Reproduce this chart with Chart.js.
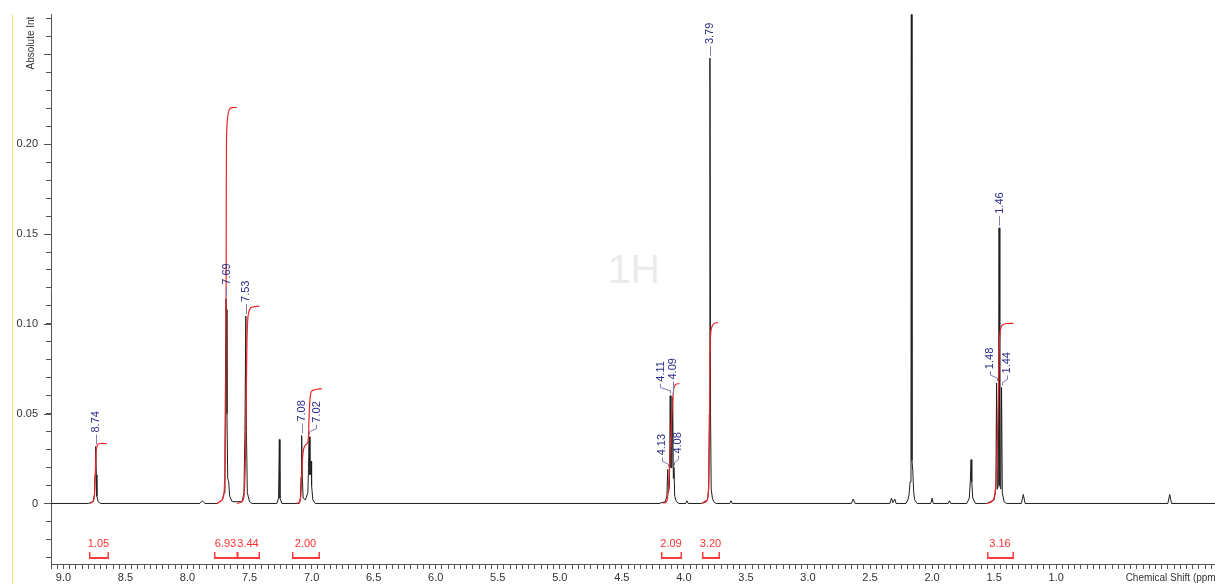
<!DOCTYPE html>
<html>
<head>
<meta charset="utf-8">
<title>1H NMR</title>
<script src="https://cdn.jsdelivr.net/npm/chart.js@4.4.1/dist/chart.umd.min.js"></script>
<style>
  html, body { margin: 0; padding: 0; background: #fff; }
  #wrap { width: 1215px; height: 584px; }
</style>
</head>
<body>
<div id="wrap"><canvas id="chart" width="1215" height="584"></canvas></div>
<script>
// spectrum: chemical shift (ppm) / absolute intensity
var shiftPpm = [
  9.10, 8.80, 8.76, 8.75, 8.745, 8.74, 8.735, 8.73, 8.72, 8.70,
  7.90, 7.88, 7.86,
  7.76, 7.72, 7.705, 7.698, 7.69, 7.686, 7.682, 7.676, 7.668, 7.66, 7.64,
  7.56, 7.545, 7.537, 7.53, 7.525, 7.518, 7.50, 7.48,
  7.28, 7.266, 7.26, 7.255, 7.24,
  7.10, 7.09, 7.085, 7.08, 7.075, 7.068, 7.05, 7.03, 7.025, 7.02, 7.013, 7.008, 7.004, 7.00, 6.99, 6.97,
  4.20, 4.15, 4.137, 4.13, 4.124, 4.116, 4.11, 4.104, 4.096, 4.09, 4.085, 4.08, 4.074, 4.06, 4.04,
  3.985, 3.975, 3.965,
  3.86, 3.81, 3.80, 3.795, 3.79, 3.785, 3.78, 3.77, 3.76, 3.74,
  3.63, 3.62, 3.61,
  2.65, 2.635, 2.62,
  2.34, 2.327, 2.315, 2.30, 2.29,
  2.21, 2.195, 2.185, 2.177, 2.17, 2.167, 2.162, 2.155, 2.148, 2.14, 2.12,
  2.01, 2.00, 1.99,
  1.87, 1.86, 1.85,
  1.72, 1.70, 1.692, 1.686, 1.68, 1.672, 1.65,
  1.56, 1.50, 1.486, 1.48, 1.474, 1.466, 1.46, 1.454, 1.446, 1.44, 1.434, 1.42, 1.40,
  1.28, 1.265, 1.25,
  0.10, 0.085, 0.07,
  -0.28
];
var intensity = [
  0, 0, 0.001, 0.005, 0.016, 0.0317, 0.016, 0.004, 0.001, 0,
  0, 0.0015, 0,
  0, 0.002, 0.006, 0.03, 0.114, 0.108, 0.05, 0.014, 0.012, 0.004, 0.001,
  0.001, 0.006, 0.04, 0.1044, 0.04, 0.006, 0.001, 0,
  0, 0.003, 0.0356, 0.003, 0,
  0, 0.003, 0.015, 0.0378, 0.015, 0.003, 0.002, 0.006, 0.02, 0.0372, 0.016, 0.018, 0.0235, 0.01, 0.002, 0,
  0, 0.001, 0.004, 0.019, 0.006, 0.01, 0.060, 0.02, 0.02, 0.059, 0.014, 0.020, 0.004, 0.001, 0,
  0, 0.0015, 0,
  0, 0.002, 0.008, 0.05, 0.248, 0.05, 0.008, 0.003, 0.001, 0,
  0, 0.0015, 0,
  0, 0.0025, 0,
  0, 0.003, 0.0005, 0.0025, 0,
  0, 0.002, 0.005, 0.012, 0.024, 0.45, 0.024, 0.018, 0.006, 0.002, 0,
  0, 0.003, 0,
  0, 0.0015, 0,
  0, 0.003, 0.012, 0.0244, 0.012, 0.003, 0,
  0, 0.002, 0.008, 0.067, 0.008, 0.01, 0.1535, 0.01, 0.008, 0.0646, 0.006, 0.001, 0,
  0, 0.005, 0,
  0, 0.005, 0,
  0
];

// picked peaks
var peakLabels = [8.74, 7.69, 7.53, 7.08, 7.02, 4.13, 4.11, 4.09, 4.08, 3.79, 1.48, 1.46, 1.44];

// integral curves (ppm / running integral)
var integralPpm = [
  [8.785, 8.755, 8.745, 8.736, 8.725, 8.715, 8.70, 8.65],
  [7.764, 7.72, 7.705, 7.695, 7.69, 7.688, 7.686, 7.683, 7.675, 7.665, 7.65, 7.603],
  [7.603, 7.56, 7.545, 7.535, 7.528, 7.522, 7.515, 7.505, 7.49, 7.47, 7.42],
  [7.119, 7.095, 7.085, 7.078, 7.072, 7.065, 7.055, 7.03, 7.022, 7.015, 7.008, 7.00, 6.99, 6.96, 6.918],
  [4.165, 4.14, 4.13, 4.12, 4.11, 4.10, 4.09, 4.083, 4.075, 4.06, 4.036],
  [3.856, 3.82, 3.805, 3.797, 3.792, 3.789, 3.786, 3.78, 3.77, 3.755, 3.724],
  [1.554, 1.52, 1.50, 1.485, 1.475, 1.465, 1.458, 1.452, 1.445, 1.43, 1.40, 1.345]
];
var integralValue = [
  [0, 0.002, 0.012, 0.0296, 0.0325, 0.0333, 0.0334, 0.0334],
  [0, 0.002, 0.006, 0.03, 0.08, 0.15, 0.2, 0.209, 0.216, 0.219, 0.2203, 0.2205],
  [0, 0.001, 0.004, 0.02, 0.05, 0.085, 0.102, 0.107, 0.109, 0.1095, 0.1098],
  [0, 0.001, 0.006, 0.018, 0.026, 0.030, 0.032, 0.034, 0.045, 0.056, 0.061, 0.0625, 0.063, 0.0636, 0.0639],
  [0, 0.001, 0.004, 0.012, 0.03, 0.045, 0.058, 0.063, 0.0655, 0.0665, 0.0667],
  [0, 0.001, 0.004, 0.02, 0.05, 0.08, 0.092, 0.097, 0.099, 0.1003, 0.1007],
  [0, 0.001, 0.003, 0.012, 0.03, 0.06, 0.088, 0.095, 0.098, 0.0995, 0.1002, 0.1003]
];

// integration ranges under the axis
var integralFrom = [8.79, 7.79, 7.605, 7.158, 4.186, 3.856, 1.554];
var integralTo = [8.642, 7.605, 7.426, 6.938, 4.022, 3.714, 1.35];
var integralText = ['1.05', '6.93', '3.44', '2.00', '2.09', '3.20', '3.16'];

var FONT = '"Liberation Sans", Arial, sans-serif';
var SPEC_COLOR = '#1e1e1e';
var INT_COLOR = '#f02424';
var LABEL_COLOR = '#2c2c8c';

// label placement tweaks for crowded multiplets (px)
var labelDx = { '7.02': 7, '4.13': -6, '4.11': -10, '4.08': 4, '1.48': -7, '1.44': 5 };
var labelLift = { '4.09': 4 };

function toPoints(xs, ys) {
  return xs.map(function(x, i) { return { x: x, y: ys[i] }; });
}

function heightAt(ppm) {
  for (var i = 0; i < shiftPpm.length; i++) {
    if (Math.abs(shiftPpm[i] - ppm) < 1e-9) return intensity[i];
  }
  return 0;
}

var datasets = [];
integralPpm.forEach(function(xs, i) {
  datasets.push({
    data: toPoints(xs, integralValue[i]),
    borderColor: INT_COLOR,
    borderWidth: 1.2,
    pointRadius: 0,
    tension: 0.3,
    order: 0
  });
});
datasets.push({
  data: toPoints(shiftPpm, intensity),
  borderColor: SPEC_COLOR,
  borderWidth: 1,
  pointRadius: 0,
  tension: 0,
  order: 1
});

var decorations = {
  id: 'decorations',
  beforeDatasetsDraw: function(chart) {
    var ctx = chart.ctx;
    ctx.save();
    ctx.font = '41px ' + FONT;
    ctx.fillStyle = '#ebebeb';
    ctx.textAlign = 'center';
    ctx.textBaseline = 'middle';
    ctx.fillText('1H', 634, 272);
    ctx.restore();
  },
  afterDraw: function(chart) {
    var ctx = chart.ctx;
    var xs = chart.scales.x, ys = chart.scales.y;
    var area = chart.chartArea;
    ctx.save();

    // thin yellow rule at the far left
    ctx.strokeStyle = '#f1e27a';
    ctx.lineWidth = 1;
    ctx.beginPath();
    ctx.moveTo(12.5, area.top);
    ctx.lineTo(12.5, chart.height);
    ctx.stroke();

    // longer ticks on the labelled y values
    ctx.strokeStyle = '#555';
    ys.ticks.forEach(function(t) {
      var k = Math.round(t.value / 0.05);
      if (Math.abs(t.value - k * 0.05) > 1e-6) return;
      var y = Math.round(ys.getPixelForValue(t.value)) + 0.5;
      ctx.beginPath();
      ctx.moveTo(area.left - 7, y);
      ctx.lineTo(area.left, y);
      ctx.stroke();
    });

    // axis titles
    ctx.fillStyle = '#333';
    ctx.font = '10px ' + FONT;
    ctx.save();
    ctx.translate(34, area.top + 2);
    ctx.rotate(-Math.PI / 2);
    ctx.textAlign = 'right';
    ctx.textBaseline = 'alphabetic';
    ctx.fillText('Absolute Int', 0, 0);
    ctx.restore();
    ctx.textAlign = 'right';
    ctx.textBaseline = 'alphabetic';
    ctx.fillText('Chemical Shift (ppm)', 1219, 581);

    // peak labels
    ctx.font = '11px ' + FONT;
    peakLabels.forEach(function(ppm) {
      var key = ppm.toFixed(2);
      var px = xs.getPixelForValue(ppm);
      var py = ys.getPixelForValue(heightAt(ppm));
      var lx = px + (labelDx[key] || 0);
      var bottom = py - 13 - (labelLift[key] || 0);
      ctx.strokeStyle = '#7c7cb6';
      ctx.lineWidth = 1;
      ctx.beginPath();
      ctx.moveTo(Math.round(lx) + 0.5, bottom + 1);
      ctx.lineTo(Math.round(lx) + 0.5, bottom + 5);
      ctx.lineTo(Math.round(px) + 0.5, bottom + 8);
      ctx.lineTo(Math.round(px) + 0.5, py - 2);
      ctx.stroke();
      ctx.save();
      ctx.translate(lx + 0.5, bottom - 1);
      ctx.rotate(-Math.PI / 2);
      ctx.fillStyle = LABEL_COLOR;
      ctx.textAlign = 'left';
      ctx.textBaseline = 'middle';
      ctx.fillText(key, 0, 0);
      ctx.restore();
    });

    // integration brackets
    integralFrom.forEach(function(from, i) {
      var x1 = Math.round(xs.getPixelForValue(from));
      var x2 = Math.round(xs.getPixelForValue(integralTo[i]));
      ctx.fillStyle = '#ff3a3a';
      ctx.fillRect(x1, 557, x2 - x1 + 1, 2);
      ctx.fillRect(x1, 552, 1.5, 7);
      ctx.fillRect(x2 - 0.5, 552, 1.5, 7);
      ctx.font = '11px ' + FONT;
      ctx.textAlign = 'center';
      ctx.textBaseline = 'middle';
      ctx.fillStyle = '#ff3030';
      ctx.fillText(integralText[i], (x1 + x2) / 2, 544);
    });

    ctx.restore();
  }
};

Chart.defaults.font.family = FONT;
Chart.defaults.font.size = 11;
Chart.defaults.color = '#333';

var chart = new Chart(document.getElementById('chart').getContext('2d'), {
  type: 'line',
  data: { datasets: datasets },
  options: {
    responsive: false,
    animation: false,
    events: [],
    layout: { padding: { top: 13, right: 0, left: 0, bottom: 0 } },
    plugins: { legend: { display: false }, tooltip: { enabled: false } },
    scales: {
      x: {
        type: 'linear',
        reverse: true,
        min: -0.28,
        max: 9.10,
        border: { color: '#555', width: 1 },
        grid: { drawOnChartArea: false, tickLength: 5, tickColor: '#555' },
        ticks: {
          stepSize: 0.05,
          includeBounds: false,
          autoSkip: false,
          maxRotation: 0,
          padding: 2,
          callback: function(v) {
            var k = Math.round(v / 0.5);
            if (Math.abs(v - k * 0.5) < 1e-6 && v > 0.9) return (k * 0.5).toFixed(1);
            return '';
          }
        },
        afterFit: function(scale) { scale.height = 20; }
      },
      y: {
        type: 'linear',
        min: -0.0337,
        max: 0.2722,
        border: { color: '#555', width: 1 },
        grid: { drawOnChartArea: false, tickLength: 5, tickColor: '#555' },
        ticks: {
          stepSize: 0.01,
          includeBounds: false,
          autoSkip: false,
          padding: 8,
          callback: function(v) {
            var k = Math.round(v / 0.05);
            if (Math.abs(v - k * 0.05) < 1e-6 && k !== 5) return k === 0 ? '0' : (k * 0.05).toFixed(2);
            return '';
          }
        },
        afterFit: function(scale) { scale.width = 51; }
      }
    }
  },
  plugins: [decorations]
});
</script>
</body>
</html>
